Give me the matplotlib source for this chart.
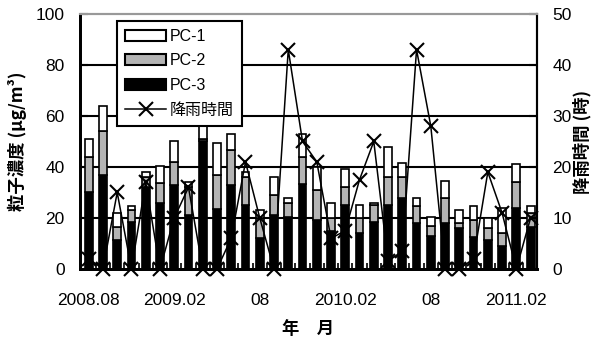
import numpy as np
import matplotlib.pyplot as plt
from matplotlib.patches import Patch
from matplotlib.lines import Line2D

# Data (monthly, 2008.08 - 2011.03)
pc3 = [30, 37, 11.5, 18.5, 32, 26, 33, 21, 50, 23.5, 33, 25, 12, 21, 20.5, 33.5,
       19, 15, 25, 14, 18.5, 25, 28, 18, 13, 18, 16, 12.5, 11.5, 9, 24, 16.5]
pc2 = [14, 17, 5, 4.5, 4, 7.7, 9, 11, 1, 13.5, 13.5, 11, 8, 8, 5.5, 10.5,
       12, 5, 7, 6, 6.5, 11, 8, 6.5, 4, 10, 2, 6.5, 4.5, 5, 10, 5.5]
pc1 = [7, 10, 5.5, 1.5, 2, 6.7, 8, 2, 6, 12.5, 6.5, 2, 3, 7, 2, 9,
       9, 6, 7, 5, 1, 12, 5.5, 3.5, 3.5, 6.5, 5, 5.5, 4, 10, 7, 2.5]
rain = [2, 0, 15, 0, 17, 0, 10, 16, 0, 0, 6, 21, 10, 0, 43, 25,
        21, 6, 7.5, 17.5, 25, 1.5, 3.5, 43, 28, 0, 0, 2, 19, 11, 0, 10]
tick_idx = [0, 6, 12, 18, 24, 30]
tick_labels = ["2008.08", "2009.02", "08", "2010.02", "08", "2011.02"]

plt.rcParams['font.family'] = ['Liberation Sans', 'Noto Sans CJK JP']
cjk = ['Noto Sans CJK JP', 'DejaVu Sans']

fig = plt.figure(figsize=(5.96, 3.4), dpi=100)
ax = fig.add_axes([0.134, 0.209, 0.767, 0.750])
ax2 = ax.twinx()

x = np.arange(len(pc3))
pc3 = np.array(pc3)
pc2 = np.array(pc2)
pc1 = np.array(pc1)
gray = "#b4b4b4"
w = 0.55

ax.bar(x, pc3, w, color="black", edgecolor="black", linewidth=1.2, zorder=2)
ax.bar(x, pc2, w, bottom=pc3, color=gray, edgecolor="black", linewidth=1.2, zorder=2)
ax.bar(x, pc1, w, bottom=pc3 + pc2, color="white", edgecolor="black", linewidth=1.2, zorder=2)

# Horizontal grid lines behind bars
for v in [20, 40, 60, 80]:
    ax.axhline(v, color="black", linewidth=1.5, zorder=1)

ax2.plot(x, rain, color="black", linewidth=1.1, marker="x", markersize=10,
         markeredgewidth=1.5, clip_on=False, zorder=3)

ax.set_xlim(-0.62, len(pc3) - 0.55)
ax.set_ylim(0, 100)
ax2.set_ylim(0, 50)

ax.set_yticks(np.arange(0, 101, 20))
ax2.set_yticks(np.arange(0, 51, 10))
ax.set_xticks(tick_idx)
ax.set_xticklabels(tick_labels)
ax.set_xticks(x[:-1] + 0.5, minor=True)

ax.tick_params(axis="x", which="major", length=0, pad=17, labelsize=12.5)
ax.tick_params(axis="x", which="minor", direction="in", length=4, width=1.2)
ax.tick_params(axis="y", direction="in", length=6, width=1.5, pad=11, labelsize=12.5)
ax2.tick_params(axis="y", direction="in", length=6, width=1.5, pad=11, labelsize=12.5)

for a in (ax, ax2):
    a.spines["left"].set_linewidth(2)
    a.spines["bottom"].set_linewidth(2)
    a.spines["right"].set_linewidth(1.5)
    a.spines["top"].set_color("#999999")
    a.spines["top"].set_linewidth(1.5)

ax.set_ylabel("粒子濃度 (μg/m³)", family=cjk, fontsize=12.5, fontweight="bold", labelpad=6)
ax2.set_ylabel("降雨時間 (時)", family=cjk, fontsize=12.5, fontweight="bold", labelpad=1)
ax.set_xlabel("年　月", family=cjk, fontsize=12.5, fontweight="bold", labelpad=9)

handles = [
    Patch(facecolor="white", edgecolor="black", linewidth=1.5),
    Patch(facecolor=gray, edgecolor="black", linewidth=1.5),
    Patch(facecolor="black", edgecolor="black", linewidth=1.5),
    Line2D([], [], color="black", linewidth=1.1, marker="x", markersize=10, markeredgewidth=1.5),
]
leg = ax2.legend(handles, ["PC-1", "PC-2", "PC-3", "降雨時間"], loc="upper left",
                 bbox_to_anchor=(0.081, 0.973), borderaxespad=0, fancybox=False,
                 framealpha=1, edgecolor="black", handlelength=2.6, handleheight=0.7,
                 labelspacing=0.6, handletextpad=0.2, borderpad=0.5,
                 prop={"family": ['Liberation Sans', 'Noto Sans CJK JP'], "size": 11.5})
leg.get_frame().set_linewidth(1.5)

fig.savefig("out.png", dpi=100)
